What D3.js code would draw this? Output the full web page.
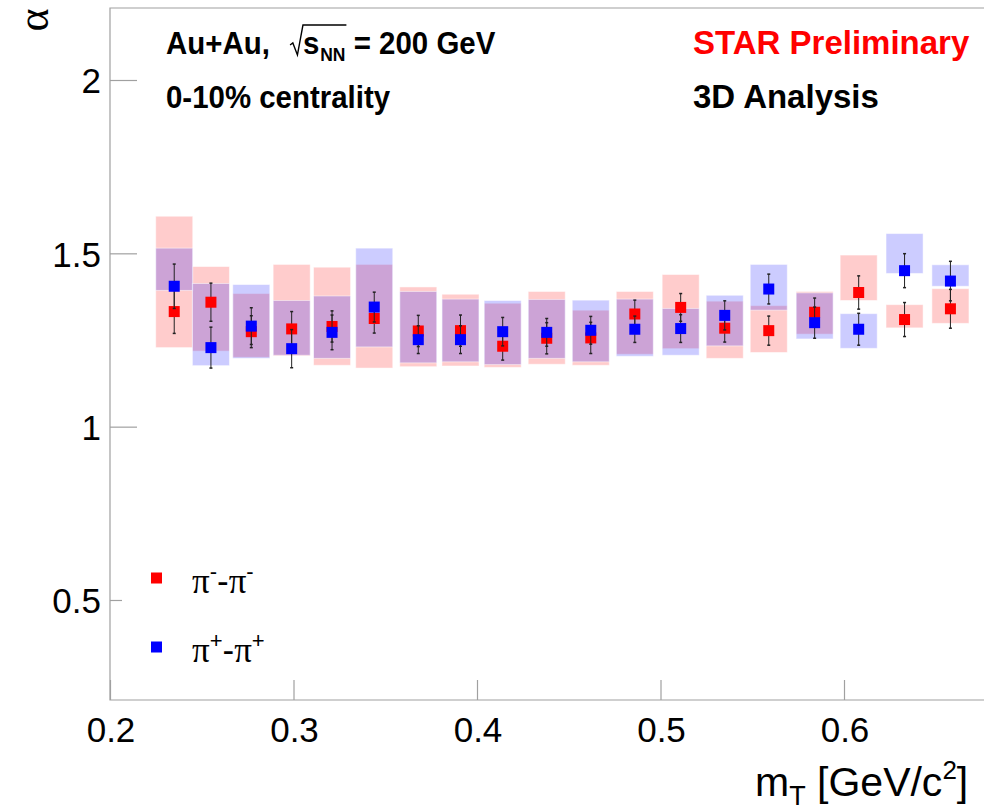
<!DOCTYPE html>
<html lang="en">
<head>
<meta charset="utf-8">
<title>alpha vs mT</title>
<script src="https://cdn.jsdelivr.net/npm/d3@7"></script>
<style>
body { margin: 0; background: #ffffff; }
svg { display: block; }
text { font-family: "Liberation Sans", Arial, Helvetica, sans-serif; }
</style>
</head>
<body>
<script>
// transverse mass bin centres [GeV/c^2]
var mT = [0.235, 0.255, 0.277, 0.299, 0.321, 0.344, 0.368, 0.391, 0.414, 0.438,
          0.462, 0.486, 0.511, 0.535, 0.559, 0.584, 0.608, 0.633, 0.658];

// pi- pi-
var alphaMinus = [1.332, 1.359, 1.274, 1.282, 1.289, 1.312, 1.276, 1.277, 1.232, 1.255,
                  1.256, 1.325, 1.344, 1.284, 1.277, 1.330, 1.387, 1.309, 1.340];
var statMinus  = [0.063, 0.055, 0.046, 0.050, 0.045, 0.042, 0.045, 0.045, 0.040, 0.045,
                  0.045, 0.040, 0.040, 0.040, 0.042, 0.041, 0.048, 0.049, 0.056];
var sysLoMinus = [1.228, 1.218, 1.200, 1.204, 1.177, 1.169, 1.173, 1.175, 1.171, 1.180,
                  1.177, 1.209, 1.225, 1.197, 1.214, 1.267, 1.364, 1.285, 1.298];
var sysHiMinus = [1.607, 1.462, 1.384, 1.468, 1.460, 1.468, 1.403, 1.382, 1.356, 1.390,
                  1.336, 1.390, 1.439, 1.362, 1.349, 1.390, 1.495, 1.352, 1.398];

// pi+ pi+
var alphaPlus = [1.405, 1.228, 1.290, 1.225, 1.272, 1.345, 1.251, 1.251, 1.274, 1.272,
                 1.278, 1.281, 1.283, 1.321, 1.397, 1.300, 1.281, 1.450, 1.420];
var statPlus  = [0.064, 0.059, 0.053, 0.055, 0.050, 0.043, 0.040, 0.040, 0.041, 0.040,
                 0.040, 0.038, 0.040, 0.042, 0.043, 0.045, 0.046, 0.049, 0.057];
var sysLoPlus = [1.393, 1.176, 1.197, 1.206, 1.197, 1.230, 1.184, 1.187, 1.179, 1.197,
                 1.187, 1.203, 1.206, 1.233, 1.336, 1.253, 1.226, 1.442, 1.405];
var sysHiPlus = [1.515, 1.413, 1.410, 1.364, 1.377, 1.515, 1.390, 1.368, 1.364, 1.367,
                 1.365, 1.368, 1.341, 1.379, 1.468, 1.386, 1.326, 1.557, 1.467];

var xTicks = [0.2, 0.3, 0.4, 0.5, 0.6];
var yTicks = [0.5, 1, 1.5, 2];

var w = 984, h = 811;
var sysHalf = 0.0101;

var x = d3.scaleLinear().domain([0.2, 0.7]).range([110, 1027.5]);
var y = d3.scaleLinear().domain([0.2115, 2.2077]).range([700, 8]);

var svg = d3.select("body").append("svg")
    .attr("width", w)
    .attr("height", h);

// frame
var axisColor = "#a0a0a0";
svg.append("path")
    .attr("d", "M" + x.range()[1] + "," + y.range()[1] + "H" + x.range()[0] + "V" + y.range()[0] + "H" + x.range()[1])
    .attr("fill", "none")
    .attr("stroke", axisColor)
    .attr("stroke-width", 1.2);

// x axis
var xAxis = d3.axisTop(x).tickValues(xTicks).tickSize(20).tickFormat("");
svg.append("g")
    .attr("transform", "translate(0," + y.range()[0] + ")")
    .call(xAxis)
    .call(function(g) {
        g.select(".domain").remove();
        g.selectAll("line").attr("stroke", axisColor).attr("stroke-width", 1.2);
    });
svg.selectAll(".xlab")
    .data(xTicks)
    .enter().append("text")
    .attr("class", "xlab")
    .attr("x", function(d) { return x(d) + 1; })
    .attr("y", 742)
    .attr("text-anchor", "middle")
    .attr("font-size", 35)
    .text(function(d) { return d3.format(".1f")(d); });

// y axis
var yAxis = d3.axisRight(y).tickValues(yTicks).tickSize(27).tickFormat("");
svg.append("g")
    .attr("transform", "translate(" + x.range()[0] + ",0)")
    .call(yAxis)
    .call(function(g) {
        g.select(".domain").remove();
        g.selectAll("line").attr("stroke", axisColor).attr("stroke-width", 1.2);
    });
svg.selectAll(".ylab")
    .data(yTicks)
    .enter().append("text")
    .attr("class", "ylab")
    .attr("x", 101)
    .attr("y", function(d) { return y(d); })
    .attr("dy", "0.38em")
    .attr("text-anchor", "end")
    .attr("font-size", 35)
    .text(function(d) { return d; });

// axis titles
svg.append("text")
    .attr("transform", "translate(34,20) rotate(-90)")
    .attr("text-anchor", "middle")
    .attr("dy", "0.32em")
    .attr("font-size", 44)
    .style("font-family", "'Liberation Serif', 'DejaVu Serif', serif")
    .text("α");

var xt = svg.append("text")
    .attr("x", 755)
    .attr("y", 796)
    .attr("font-size", 41);
xt.append("tspan").text("m");
xt.append("tspan").attr("font-size", 27).attr("dy", 9).text("T");
xt.append("tspan").attr("dy", -9).text(" [GeV/c");
xt.append("tspan").attr("font-size", 26).attr("dy", -17).text("2");
xt.append("tspan").attr("dy", 17).text("]");

// systematic boxes
function sysBoxes(lo, hi, fill) {
    svg.append("g").selectAll("rect")
        .data(mT)
        .enter().append("rect")
        .attr("x", function(d) { return x(d - sysHalf); })
        .attr("width", function(d) { return x(d + sysHalf) - x(d - sysHalf); })
        .attr("y", function(d, i) { return y(hi[i]); })
        .attr("height", function(d, i) { return y(lo[i]) - y(hi[i]); })
        .attr("fill", fill)
        .attr("fill-opacity", 0.2)
        .attr("stroke", "#ffffff")
        .attr("stroke-opacity", 0.5)
        .attr("stroke-width", 1);
}

function points(vals, errs, fill) {
    var g = svg.append("g");
    var eb = g.selectAll(".err")
        .data(mT)
        .enter().append("g")
        .attr("class", "err");
    eb.append("line")
        .attr("x1", function(d) { return x(d); })
        .attr("x2", function(d) { return x(d); })
        .attr("y1", function(d, i) { return y(vals[i] - errs[i]); })
        .attr("y2", function(d, i) { return y(vals[i] + errs[i]); })
        .attr("stroke", "#222")
        .attr("stroke-width", 1);
    [-1, 1].forEach(function(s) {
        eb.append("line")
            .attr("x1", function(d) { return x(d) - 1.5; })
            .attr("x2", function(d) { return x(d) + 1.5; })
            .attr("y1", function(d, i) { return y(vals[i] + s * errs[i]); })
            .attr("y2", function(d, i) { return y(vals[i] + s * errs[i]); })
            .attr("stroke", "#222")
            .attr("stroke-width", 1.5);
    });
    g.selectAll(".mk")
        .data(mT)
        .enter().append("rect")
        .attr("class", "mk")
        .attr("x", function(d) { return x(d) - 5.5; })
        .attr("y", function(d, i) { return y(vals[i]) - 5.5; })
        .attr("width", 11)
        .attr("height", 11)
        .attr("fill", fill);
}

sysBoxes(sysLoMinus, sysHiMinus, "#ff0000");
sysBoxes(sysLoPlus, sysHiPlus, "#0000ff");
points(alphaMinus, statMinus, "#ff0000");
points(alphaPlus, statPlus, "#0000ff");

// legend (white box hides part of the 0.5 tick, as in the original)
var leg = svg.append("g");
leg.append("rect")
    .attr("x", 122).attr("y", 548)
    .attr("width", 200).attr("height", 130)
    .attr("fill", "#fff");
var legItems = [
    { color: "#ff0000", sign: "-", yc: 578 },
    { color: "#0000ff", sign: "+", yc: 647 }
];
legItems.forEach(function(it) {
    leg.append("rect")
        .attr("x", 151).attr("y", it.yc - 5.5)
        .attr("width", 11).attr("height", 11)
        .attr("fill", it.color);
    var t = leg.append("text")
        .attr("x", 192)
        .attr("y", it.yc + 15)
        .attr("font-size", 35)
        .style("font-family", "'Liberation Serif', 'DejaVu Serif', serif");
    t.append("tspan").text("π");
    t.append("tspan").attr("font-size", 22).attr("dy", -14)
        .style("font-family", "'Liberation Sans', sans-serif").text(it.sign);
    t.append("tspan").attr("dy", 14)
        .style("font-family", "'Liberation Sans', sans-serif").text("-");
    t.append("tspan").text("π");
    t.append("tspan").attr("font-size", 22).attr("dy", -14)
        .style("font-family", "'Liberation Sans', sans-serif").text(it.sign);
});

// header texts (left block is slightly condensed, as in the original)
var fs = 32;
var row1 = 54, row2 = 108;
var left = 166;
var hdr = svg.append("g")
    .attr("transform", "translate(" + left + ",0) scale(0.92,1)");

var a1 = hdr.append("text")
    .attr("x", 0).attr("y", row1)
    .attr("font-size", fs).attr("font-weight", "bold")
    .text("Au+Au,");
var cx = a1.node().getComputedTextLength() + 22;
var sTxt = hdr.append("text")
    .attr("x", cx + 14).attr("y", row1)
    .attr("font-size", fs).attr("font-weight", "bold")
    .text("s");
var nnX = cx + 14 + sTxt.node().getComputedTextLength() + 1;
var nn = hdr.append("text")
    .attr("x", nnX).attr("y", row1 + 7)
    .attr("font-size", 19).attr("font-weight", "bold")
    .text("NN");
var endOver = nnX + nn.node().getComputedTextLength() + 1;
hdr.append("path")
    .attr("d", "M" + cx + "," + (row1 - 9) + "L" + (cx + 3) + "," + (row1 - 11) +
               "L" + (cx + 8) + "," + (row1 + 1) + "L" + (cx + 14) + "," + (row1 - 29) +
               "H" + endOver)
    .attr("fill", "none")
    .attr("stroke", "#000")
    .attr("stroke-width", 1.5);
hdr.append("text")
    .attr("x", endOver + 8).attr("y", row1)
    .attr("font-size", fs).attr("font-weight", "bold")
    .text("= 200 GeV");

hdr.append("text")
    .attr("x", 0).attr("y", row2)
    .attr("font-size", fs).attr("font-weight", "bold")
    .text("0-10% centrality");

svg.append("text")
    .attr("x", 693).attr("y", row1)
    .attr("font-size", 33).attr("font-weight", "bold")
    .attr("fill", "#ff0000")
    .text("STAR Preliminary");
svg.append("text")
    .attr("x", 693).attr("y", row2)
    .attr("font-size", 33).attr("font-weight", "bold")
    .text("3D Analysis");
</script>
</body>
</html>
